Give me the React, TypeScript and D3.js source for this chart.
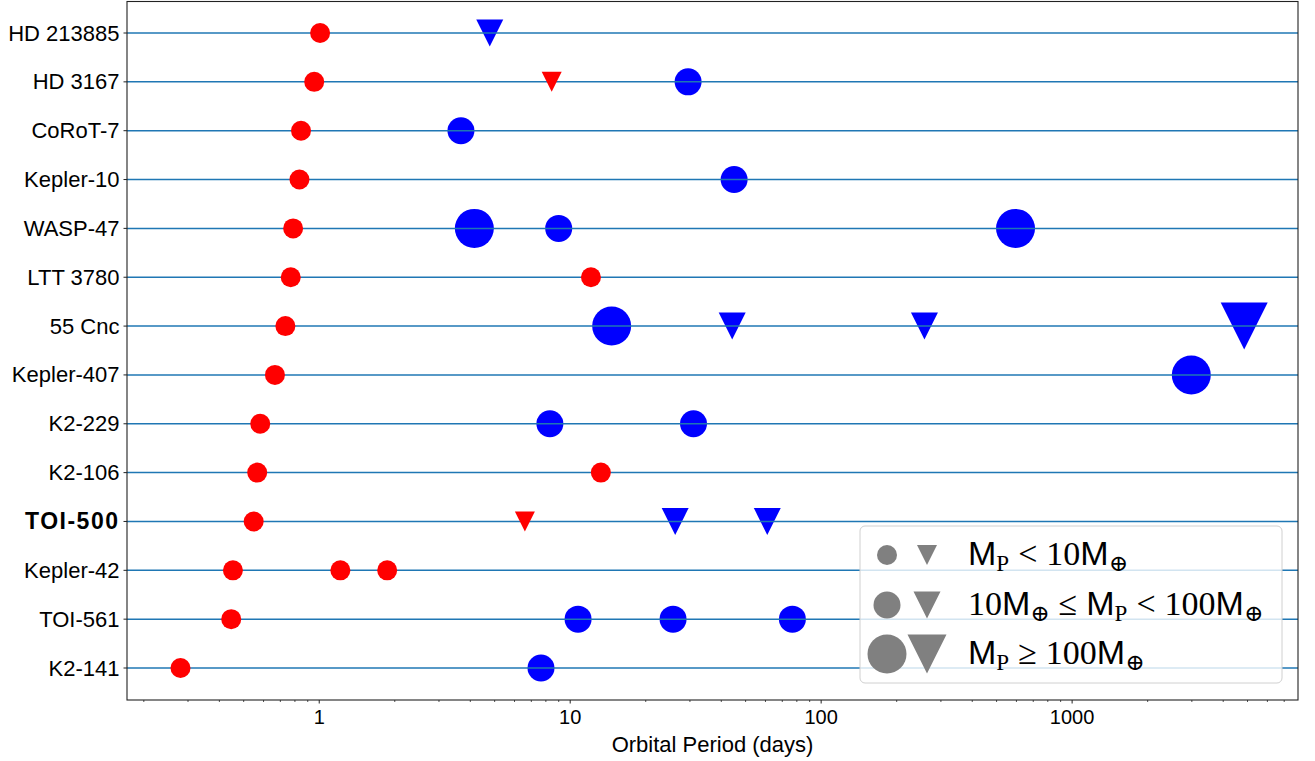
import React from "react";
import * as d3 from "d3";

// ---- data ----
const systems = [
  "HD 213885", "HD 3167", "CoRoT-7", "Kepler-10", "WASP-47", "LTT 3780", "55 Cnc",
  "Kepler-407", "K2-229", "K2-106", "TOI-500", "Kepler-42", "TOI-561", "K2-141",
];
// planet host index, orbital period (days), mass class (0:<10, 1:10-100, 2:>=100, 3: very massive), shape
const planetSystem = [
  0, 0,
  1, 1, 1,
  2, 2,
  3, 3,
  4, 4, 4, 4,
  5, 5,
  6, 6, 6, 6, 6,
  7, 7,
  8, 8, 8,
  9, 9,
  10, 10, 10, 10,
  11, 11, 11,
  12, 12, 12, 12,
  13, 13,
];
const planetPeriod = [
  1.008, 4.78,
  0.955, 8.44, 29.5,
  0.846, 3.67,
  0.834, 45.0,
  0.787, 4.15, 9.0, 595,
  0.77, 12.1,
  0.733, 14.63, 44.2, 258, 4850,
  0.666, 2985,
  0.582, 8.3, 31.0,
  0.566, 13.25,
  0.548, 6.6, 26.2, 61.0,
  0.453, 1.214, 1.865,
  0.446, 10.75, 25.7, 76.8,
  0.28, 7.65,
];
const planetMassClass = [
  0, 1,
  0, 0, 1,
  0, 1,
  0, 1,
  0, 2, 1, 2,
  0, 0,
  0, 2, 1, 1, 3,
  0, 2,
  0, 1, 1,
  0, 0,
  0, 0, 1, 1,
  0, 0, 0,
  0, 1, 1, 1,
  0, 1,
];
const planetShape = [
  "o", "v",
  "o", "v", "o",
  "o", "o",
  "o", "o",
  "o", "o", "o", "o",
  "o", "o",
  "o", "o", "v", "v", "v",
  "o", "o",
  "o", "o", "o",
  "o", "o",
  "o", "v", "v", "v",
  "o", "o", "o",
  "o", "o", "o", "o",
  "o", "o",
];
const boldSystems = ["TOI-500"];
const xTicks = [1, 10, 100, 1000];
const xLabel = "Orbital Period (days)";
const legendClasses = [0, 1, 2];

// ---- layout ----
const W = 1315;
const H = 761;
const left = 127;
const right = 1298;
const top = 1.5;
const bottom = 700;
const circleSize = [20, 27, 39, 39];
const triSize = [20, 27, 39, 47];
const classColor = ["#ff0000", "#0000ff", "#0000ff", "#0000ff"];
const sansFont = "'Liberation Sans', Arial, sans-serif";
const serifFont = "'Liberation Serif', 'DejaVu Serif', serif";

const x = d3.scaleLog().domain([0.1714, 7945]).range([left, right]);
const y = d3.scaleLinear().domain([-0.645, systems.length - 1 + 0.655]).range([top, bottom]);

function triPath(cx: number, cy: number, s: number) {
  const h = s / 2;
  return `M${cx - h},${cy - h}L${cx + h},${cy - h}L${cx},${cy + h}Z`;
}

function Marker({ cx, cy, shape, cls, color }: { cx: number; cy: number; shape: string; cls: number; color: string }) {
  if (shape === "v") return <path d={triPath(cx, cy, triSize[cls])} fill={color} />;
  return <circle cx={cx} cy={cy} r={circleSize[cls] / 2} fill={color} />;
}

export default function App() {
  const planets = planetPeriod.map((p, i) => ({
    sys: planetSystem[i],
    p,
    cls: planetMassClass[i],
    shape: planetShape[i],
  }));
  const minor: number[] = [];
  for (let e = -1; e <= 3; e++) {
    for (let m = 2; m <= 9; m++) {
      const v = m * Math.pow(10, e);
      if (v >= x.domain()[0] && v <= x.domain()[1]) minor.push(v);
    }
  }
  const legX = 860;
  const legY = 526;
  const legW = 422;
  const legH = 157;
  const rowY = [555, 605, 654];
  const textBase = [565, 615, 664];
  const fs = 34;
  const sub = 23;
  const gap = 9;
  const legendText = (i: number) => {
    const M = (k: string, dx = 0) => <tspan key={k} fontFamily={sansFont} dx={dx}>M</tspan>;
    const P = (k: string) => <tspan key={k} fontFamily={serifFont} fontSize={sub} dy={6}>P</tspan>;
    const E = (k: string) => <tspan key={k} fontFamily={serifFont} fontSize={sub} dy={6}>⊕</tspan>;
    const R = (k: string, t: string, dy = 0) => <tspan key={k} fontFamily={serifFont} dx={gap} dy={dy}>{t}</tspan>;
    const N = (k: string, t: string) => <tspan key={k} fontFamily={serifFont} dx={gap}>{t}</tspan>;
    const N0 = (k: string, t: string, dy = 0) => <tspan key={k} fontFamily={serifFont} dy={dy}>{t}</tspan>;
    if (i === 0) return [M("a"), P("b"), R("c", "<", -6), N("d", "10"), M("e"), E("f")];
    if (i === 1) return [N0("a", "10"), M("b"), E("c"), R("d", "≤", -6), M("f", gap), P("g"), R("h", "<", -6), N("i", "100"), M("j"), E("k")];
    return [M("a"), P("b"), R("c", "≥", -6), N("d", "100"), M("e"), E("f")];
  };
  return (
    <div style={{ position: "absolute", left: 0, top: 0 }}>
      <svg width={W} height={H} style={{ display: "block", background: "#fff" }}>
        <rect x={0} y={0} width={W} height={H} fill="#fff" />
        {/* blue markers */}
        {planets.filter((d) => d.cls > 0).map((d, i) => (
          <Marker key={"b" + i} cx={x(d.p)} cy={y(d.sys)} shape={d.shape} cls={d.cls} color={classColor[d.cls]} />
        ))}
        {/* horizontal lines */}
        {systems.map((s, i) => (
          <line key={s} x1={left} x2={right} y1={y(i)} y2={y(i)} stroke="#1f77b4" strokeWidth={1.5} />
        ))}
        {/* red markers */}
        {planets.filter((d) => d.cls === 0).map((d, i) => (
          <Marker key={"r" + i} cx={x(d.p)} cy={y(d.sys)} shape={d.shape} cls={d.cls} color={classColor[d.cls]} />
        ))}
        {/* legend */}
        <rect x={legX} y={legY} width={legW} height={legH} rx={5} fill="#fff" fillOpacity={0.8} stroke="#d0d0d0" strokeWidth={1} />
        {legendClasses.map((c, i) => (
          <g key={"leg" + c}>
            <circle cx={887} cy={rowY[i]} r={circleSize[c] / 2} fill="#808080" />
            <path d={triPath(927, rowY[i], circleSize[c])} fill="#808080" />
            <text x={968} y={textBase[i]} fontSize={fs} fill="#000">{legendText(i)}</text>
          </g>
        ))}
        {/* axes frame */}
        <rect x={left} y={top} width={right - left} height={bottom - top} fill="none" stroke="#222" strokeWidth={1.1} />
        {/* y ticks */}
        {systems.map((s, i) => {
          const bold = boldSystems.includes(s);
          return (
            <g key={"yt" + s}>
              <line x1={left - 3.5} x2={left} y1={y(i)} y2={y(i)} stroke="#222" strokeWidth={1} />
              <text
                x={left - 7.5}
                y={y(i)}
                textAnchor="end"
                dominantBaseline="central"
                fontFamily={sansFont}
                fontSize={bold ? 23 : 22}
                fontWeight={bold ? "bold" : "normal"}
                letterSpacing={bold ? 1.5 : 0}
                fill="#000"
              >
                {s}
              </text>
            </g>
          );
        })}
        {/* x ticks */}
        {minor.map((v, i) => (
          <line key={"mn" + i} x1={x(v)} x2={x(v)} y1={bottom} y2={bottom + 2} stroke="#222" strokeWidth={0.8} />
        ))}
        {xTicks.map((v) => (
          <g key={"xt" + v}>
            <line x1={x(v)} x2={x(v)} y1={bottom} y2={bottom + 3.5} stroke="#222" strokeWidth={1} />
            <text x={x(v)} y={724} textAnchor="middle" fontFamily={sansFont} fontSize={20} fill="#000">
              {String(v)}
            </text>
          </g>
        ))}
        <text x={(left + right) / 2} y={752} textAnchor="middle" fontFamily={sansFont} fontSize={22} fill="#000">
          {xLabel}
        </text>
      </svg>
    </div>
  );
}
